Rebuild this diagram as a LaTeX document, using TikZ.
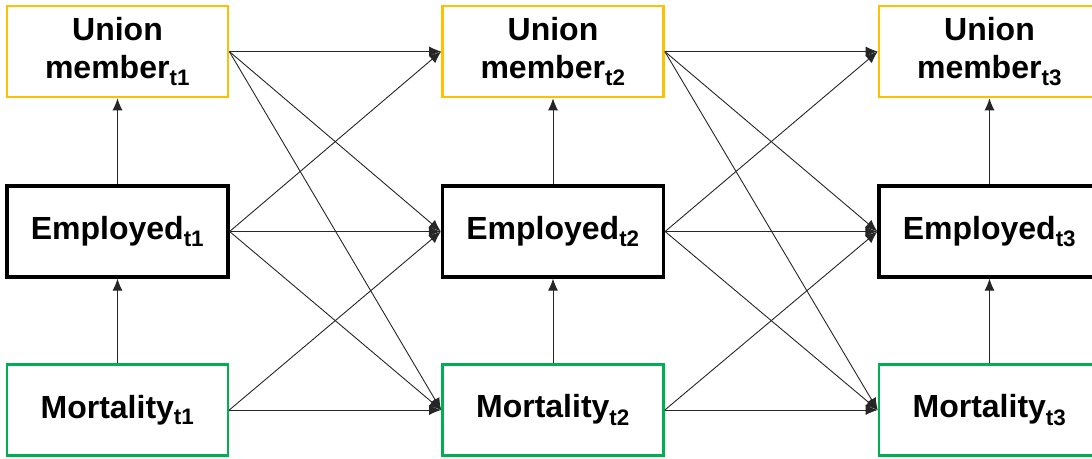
\documentclass[tikz,border=0pt]{standalone}
\usepackage{fontspec}
\setmainfont{Liberation Sans}
\usetikzlibrary{arrows.meta}
\definecolor{unionyellow}{HTML}{FFC000}
\definecolor{mortgreen}{HTML}{00B050}
\begin{document}
\begin{tikzpicture}[x=1pt,y=-1pt,
  box/.style={draw, line width=2.6pt, minimum width=221pt, minimum height=91pt,
    inner sep=0pt, align=center, font=\fontsize{32}{38}\selectfont\bfseries},
  unionbox/.style={box, draw=unionyellow},
  empbox/.style={box, draw=black, line width=3.2pt},
  mortbox/.style={box, draw=mortgreen},
  link/.style={draw=black!85, line width=0.9pt, -{Latex[length=12pt,width=10pt]}}]
  \useasboundingbox (0,0) rectangle (1092,458);
  \clip (0,0) rectangle (1092,458);
  % nodes, column by column
  \foreach \c/\x in {1/117.5, 2/553, 3/989.5} {
    \node[unionbox] (u\c) at (\x,51.5) {Union\\member\textsubscript{t\c}};
    \node[empbox]   (e\c) at (\x,231.5) {Employed\textsubscript{t\c}};
    \node[mortbox]  (m\c) at (\x,410) {Mortality\textsubscript{t\c}};
  }
  % within-wave paths
  \foreach \c in {1,2,3} {
    \draw[link] (m\c.north) -- (e\c.south);
    \draw[link] (e\c.north) -- (u\c.south);
  }
  % cross-lagged paths
  \foreach \a/\b in {1/2, 2/3} {
    \draw[link] (u\a.east) -- (u\b.west);
    \draw[link] (u\a.east) -- (e\b.west);
    \draw[link] (u\a.east) -- (m\b.west);
    \draw[link] (e\a.east) -- (u\b.west);
    \draw[link] (e\a.east) -- (e\b.west);
    \draw[link] (e\a.east) -- (m\b.west);
    \draw[link] (m\a.east) -- (e\b.west);
    \draw[link] (m\a.east) -- (m\b.west);
  }
\end{tikzpicture}
\end{document}
